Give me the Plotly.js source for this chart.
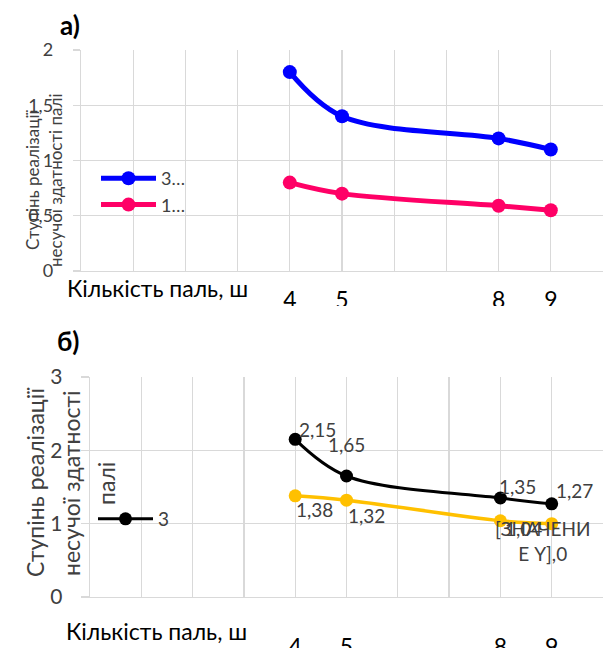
<!DOCTYPE html>
<html><head><meta charset="utf-8">
<script src="https://cdn.plot.ly/plotly-3.0.1.min.js"></script>
<style>html,body{margin:0;padding:0;background:#fff}#chart{width:608px;height:648px}</style>
</head><body><div id="chart"></div>
<script>
// ---- data ----
const xValues = [4, 5, 8, 9];
const xTickVals = [0, 1, 2, 3, 4, 5, 6, 7, 8, 9, 10];
const xTickText = ['', '', '', '', '4', '5', '', '', '8', '9', ''];
const seriesA_blueName = '3…';
const seriesA_blue = [1.80, 1.40, 1.20, 1.10];
const seriesA_pinkName = '1…';
const seriesA_pink = [0.80, 0.70, 0.59, 0.55];
const seriesB_blackName = '3';
const seriesB_black = [2.15, 1.65, 1.35, 1.27];
const seriesB_orange = [1.38, 1.32, 1.04, 1.00];
const labelsB_black = ['2,15', '1,65', '1,35', '1,27'];
const labelsB_orange = ['1,38', '1,32', '1,04', '[ЗНАЧЕНИ<br>Е Y],0'];
const titleA = 'а)';
const titleB = 'б)';
const xTitle = 'Кількість паль, ш';
const yTitleA = ['Ступінь реалізації', 'несучої здатності палі'];
const yTitleB = ['Ступінь реалізації', 'несучої здатності', 'палі'];

// ---- styles / positions ----
const W = 608, H = 648;
const px = v => v / W;
const py = v => 1 - v / H;
const FONT = 'Lato, "Open Sans", sans-serif';
const TXT = '#404040';
const GRID = '#d9d9d9';
const shiftB_black = [[22, 10], [0, 32], [17, 12], [23, 13]];
const shiftB_orange = [[19, -14], [20, -15], [23, -8], [-9, -17]];

const traces = [
  {x: xValues, y: seriesA_blue, name: seriesA_blueName, xaxis: 'x', yaxis: 'y', mode: 'lines+markers',
   line: {color: '#0000ff', width: 5, shape: 'spline', smoothing: 1}, marker: {color: '#0000ff', size: 14}, legend: 'legend'},
  {x: xValues, y: seriesA_pink, name: seriesA_pinkName, xaxis: 'x', yaxis: 'y', mode: 'lines+markers',
   line: {color: '#ff0066', width: 5, shape: 'spline', smoothing: 1}, marker: {color: '#ff0066', size: 14}, legend: 'legend'},
  {x: xValues, y: seriesB_black, name: seriesB_blackName, xaxis: 'x2', yaxis: 'y2', mode: 'lines+markers',
   line: {color: '#000000', width: 3, shape: 'spline', smoothing: 1}, marker: {color: '#000000', size: 13}, legend: 'legend2'},
  {x: xValues, y: seriesB_orange, name: 'Y', xaxis: 'x2', yaxis: 'y2', mode: 'lines+markers', showlegend: false,
   line: {color: '#ffc000', width: 3.5, shape: 'spline', smoothing: 1}, marker: {color: '#ffc000', size: 13}}
];

const xBase = {range: [0, 10], tickmode: 'array', tickvals: xTickVals, ticktext: xTickText,
  showgrid: true, gridcolor: GRID, gridwidth: 1.3, showline: true, linecolor: GRID, linewidth: 1.3,
  ticks: '', zeroline: false, tickfont: {family: FONT, size: 23, color: '#000'}, fixedrange: true};

const annotations = [];
function ann(text, x, y, opts) {
  annotations.push(Object.assign({text: text, xref: 'paper', yref: 'paper', x: px(x), y: py(y), showarrow: false,
    xanchor: 'center', yanchor: 'middle', font: {family: FONT, size: 17, color: TXT}}, opts || {}));
}
ann(titleA, 70, 25, {font: {family: FONT, size: 26, color: '#000'}, text: '<b>' + titleA + '</b>'});
ann(titleB, 68, 341, {font: {family: FONT, size: 26, color: '#000'}, text: '<b>' + titleB + '</b>'});
ann(xTitle, 65, 288, {xanchor: 'left', font: {family: FONT, size: 23, color: '#000'}});
ann(xTitle, 64, 631, {xanchor: 'left', font: {family: FONT, size: 23, color: '#000'}});
ann(yTitleA[0], 32, 180, {textangle: -90, font: {family: FONT, size: 17, color: TXT}});
ann(yTitleA[1], 55, 180, {textangle: -90, font: {family: FONT, size: 17, color: TXT}});
ann(yTitleB[0], 35, 483, {textangle: -90, font: {family: FONT, size: 23, color: TXT}});
ann(yTitleB[1], 71, 483, {textangle: -90, font: {family: FONT, size: 23, color: TXT}});
ann(yTitleB[2], 106, 483, {textangle: -90, font: {family: FONT, size: 23, color: TXT}});

xValues.forEach((xv, i) => {
  annotations.push({text: labelsB_black[i], xref: 'x2', yref: 'y2', x: xv, y: seriesB_black[i], showarrow: false,
    xshift: shiftB_black[i][0], yshift: shiftB_black[i][1], font: {family: FONT, size: 19, color: TXT}});
  annotations.push({text: labelsB_orange[i], xref: 'x2', yref: 'y2', x: xv, y: seriesB_orange[i], showarrow: false,
    xshift: shiftB_orange[i][0], yshift: shiftB_orange[i][1], font: {family: FONT, size: 19, color: TXT}});
});

const layout = {
  width: W, height: H, margin: {l: 0, r: 0, t: 0, b: 0}, paper_bgcolor: '#fff', plot_bgcolor: '#fff',
  separators: ', ', font: {family: FONT, color: TXT},
  xaxis: Object.assign({}, xBase, {domain: [px(81), px(603)], anchor: 'y', ticklabelstandoff: 8}),
  yaxis: {domain: [py(271), py(50)], range: [0, 2], dtick: 0.5, showgrid: true, gridcolor: GRID, gridwidth: 1.3,
    showline: true, linecolor: GRID, linewidth: 1.3, ticks: 'outside', ticklen: 7, tickcolor: GRID, tickwidth: 1.3,
    zeroline: false, tickfont: {family: FONT, size: 18, color: TXT}, ticklabelstandoff: 16, anchor: 'x', fixedrange: true},
  xaxis2: Object.assign({}, xBase, {domain: [px(90), px(603)], anchor: 'y2', ticklabelstandoff: 29}),
  yaxis2: {domain: [py(597), py(377)], range: [0, 3], dtick: 1, showgrid: true, gridcolor: GRID, gridwidth: 1.3,
    showline: true, linecolor: GRID, linewidth: 1.3, ticks: 'outside', ticklen: 8, tickcolor: GRID, tickwidth: 1.3,
    zeroline: false, tickfont: {family: FONT, size: 21, color: TXT}, ticklabelstandoff: 14, anchor: 'x2', fixedrange: true},
  showlegend: true,
  legend: {x: px(96), y: py(160), xanchor: 'left', yanchor: 'top', bgcolor: 'rgba(0,0,0,0)',
    font: {family: FONT, size: 18, color: TXT}, itemwidth: 55, tracegroupgap: 0},
  legend2: {x: px(93), y: py(500), xanchor: 'left', yanchor: 'top', bgcolor: 'rgba(0,0,0,0)',
    font: {family: FONT, size: 19, color: TXT}, itemwidth: 55},
  shapes: [
    {type: 'rect', xref: 'paper', yref: 'paper', x0: 0, x1: 1, y0: py(322), y1: py(306), layer: 'above',
     fillcolor: '#fff', line: {width: 0}}
  ],
  annotations: annotations
};

Plotly.newPlot('chart', traces, layout, {displayModeBar: false, staticPlot: true});
</script></body></html>
